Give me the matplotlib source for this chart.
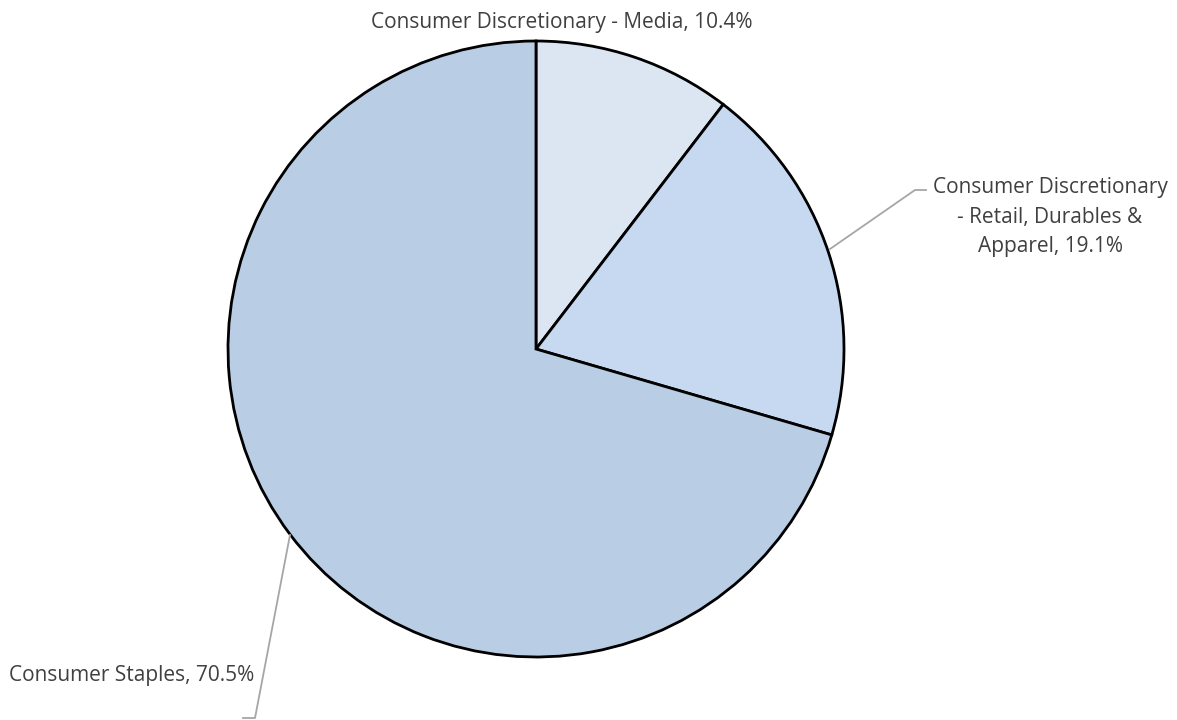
import matplotlib
matplotlib.use("Agg")
import matplotlib.pyplot as plt

labels = ["Consumer Discretionary - Media", "Consumer Discretionary\n- Retail, Durables &\nApparel", "Consumer Staples"]
values = [10.4, 19.1, 70.5]
colors = ["#DCE6F2", "#C6D9F1", "#B9CDE5"]

W, H = 1177, 720
fig = plt.figure(figsize=(W / 100, H / 100), dpi=100)
ax = fig.add_axes([0, 0, 1, 1])

cx, cy, r = 536, H - 349, 308
ax.pie(values, colors=colors, startangle=90, counterclock=False, center=(cx, cy), radius=r,
       wedgeprops=dict(edgecolor="black", linewidth=2), frame=True)
ax.set_xlim(0, W)
ax.set_ylim(0, H)
ax.set_aspect("equal")
ax.axis("off")

tc = "#404040"
fs = 15
fam = ["Open Sans", "DejaVu Sans"]

def put(x, y_px, s):
    ax.text(x, H - y_px, s, ha="center", va="baseline", fontsize=fs, color=tc, family=fam)

put(562, 28, f"{labels[0]}, {values[0]}%")
retail_lines = f"{labels[1]}, {values[1]}%".split("\n")
for i, line in enumerate(retail_lines):
    put(1050, 193 + 29.5 * i, line)
put(132, 681, f"{labels[2]}, {values[2]}%")

lc = "#A6A6A6"
ax.plot([830, 915, 926], [H - 249, H - 190, H - 190], color=lc, lw=1.3)
ax.plot([290, 255, 243], [H - 535, H - 718, H - 718], color=lc, lw=1.3)

fig.savefig("out.png", dpi=100)
